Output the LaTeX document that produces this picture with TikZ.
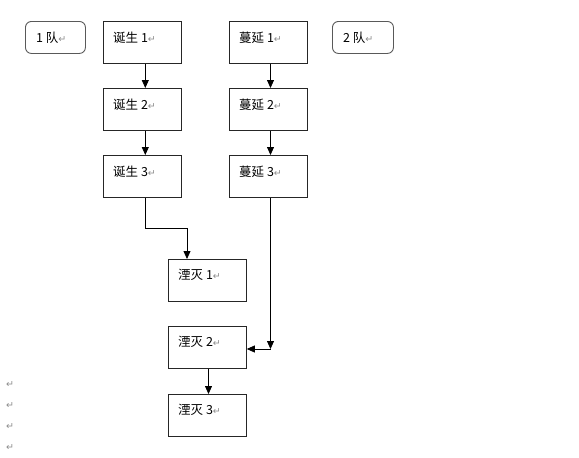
\documentclass[tikz,border=0pt]{standalone}
\usepackage{fontspec}
\setmainfont{Noto Sans CJK SC}
\newfontfamily\retfont{DejaVu Sans}
\usetikzlibrary{arrows.meta,calc}
\newcommand{\ret}{{\retfont\color{black!45}\fontsize{9.5}{10}\selectfont ↵}}
\tikzset{
  x=1pt,y=-1pt,
  box/.style={draw=black!85,line width=0.8pt,minimum width=78pt,minimum height=42pt,inner sep=0pt,anchor=north west},
  rbox/.style={draw=black!65,line width=0.9pt,rounded corners=6pt,minimum width=60pt,minimum height=32pt,inner sep=0pt,anchor=north west},
  txt/.style={anchor=west,inner sep=0pt,font=\fontsize{12.5}{13}\selectfont},
  arr/.style={-{Triangle[length=8pt,width=7pt]},line width=0.8pt,black},
}
\begin{document}
\begin{tikzpicture}
\useasboundingbox (0,0) rectangle (579,458);
% team boxes
\node[rbox,minimum width=60pt] (q1) at (25,21) {};
\node[txt] (q1t) at (36,38) {1 队\ret};
\node[rbox,minimum width=61pt] (q2) at (332,21) {};
\node[txt] (q2t) at (343,38) {2 队\ret};
% birth column
\node[box] (d1) at (103,21) {};
\node[txt] (d1t) at (113,38) {诞生 1\ret};
\node[box] (d2) at (103,88) {};
\node[txt] (d2t) at (113,105) {诞生 2\ret};
\node[box] (d3) at (103,155) {};
\node[txt] (d3t) at (113,172) {诞生 3\ret};
% spread column
\node[box] (s1) at (229,21) {};
\node[txt] (s1t) at (239,38) {蔓延 1\ret};
\node[box] (s2) at (229,88) {};
\node[txt] (s2t) at (239,105) {蔓延 2\ret};
\node[box] (s3) at (229,155) {};
\node[txt] (s3t) at (239,172) {蔓延 3\ret};
% annihilation column
\node[box] (m1) at (168,259) {};
\node[txt] (m1t) at (178,275) {湮灭 1\ret};
\node[box] (m2) at (168,326) {};
\node[txt] (m2t) at (178,342) {湮灭 2\ret};
\node[box] (m3) at (168,394) {};
\node[txt] (m3t) at (178,410) {湮灭 3\ret};
% connectors
\coordinate (xd) at (145.3,0);
\coordinate (xs) at (270.5,0);
\draw[arr] (d1.south -| xd) -- (d2.north -| xd);
\draw[arr] (d2.south -| xd) -- (d3.north -| xd);
\draw[arr] (s1.south -| xs) -- (s2.north -| xs);
\draw[arr] (s2.south -| xs) -- (s3.north -| xs);
\coordinate (k1) at (187,228);
\draw[arr] (d3.south -| xd) |- (k1) -- (k1 |- m1.north);
\coordinate (k2) at (270.5,349);
\draw[arr] (s3.south -| k2) -- (k2);
\draw[arr] (k2) -- (m2.east |- k2);
\draw[arr] (m2.south -| 208.5,0) -- (m3.north -| 208.5,0);
% stray paragraph marks
\node[txt] (p1) at (6,385) {\ret};
\node[txt] (p2) at (6,406) {\ret};
\node[txt] (p3) at (6,427) {\ret};
\node[txt] (p4) at (6,448) {\ret};
\end{tikzpicture}
\end{document}
